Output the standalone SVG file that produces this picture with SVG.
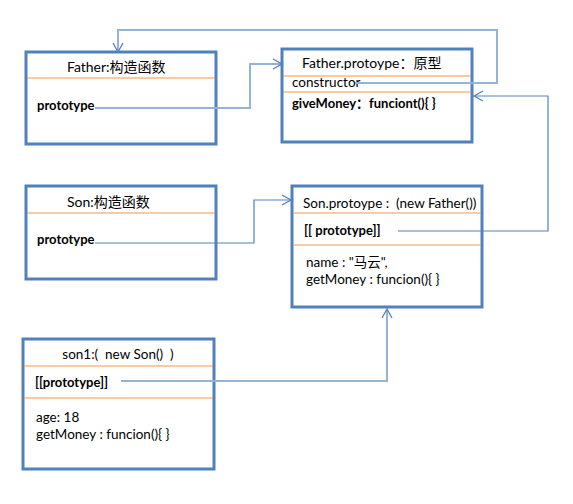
<svg xmlns="http://www.w3.org/2000/svg" width="573" height="504" viewBox="0 0 573 504">
<defs>
<marker id="arr" markerWidth="12" markerHeight="12" refX="10" refY="6" orient="auto" markerUnits="userSpaceOnUse">
<path d="M1,1 L10,6 L1,11" fill="none" stroke="#4F81BD" stroke-width="1.3"/>
</marker>
</defs>
<style>
.box{fill:#fff;stroke:#4F81BD;stroke-width:3}
.sep{stroke:#F79646;stroke-width:1.2}
.t{font-family:"Lato","Liberation Sans","Noto Sans CJK SC",sans-serif;font-size:13.5px;fill:#000;white-space:pre}
.h{font-size:14px}
.b{font-weight:bold;font-size:13px}
.c{fill:none;stroke:#95B3D7;stroke-width:2;marker-end:url(#arr)}
.c2{fill:none;stroke:#4F81BD;stroke-width:1.2;marker-end:url(#arr)}
</style>
<rect width="573" height="504" fill="#fff"/>
<g id="father">
<rect class="box" x="26" y="52" width="190" height="92"/>
<line class="sep" x1="27" y1="78" x2="215" y2="78"/>
<text class="t h" x="67" y="72">Father:构造函数</text>
<text class="t b" x="37" y="110">prototype</text>
</g>
<g id="father-prototype">
<rect class="box" x="282" y="49" width="190" height="93"/>
<line class="sep" x1="283" y1="76" x2="471" y2="76"/>
<line class="sep" x1="283" y1="92" x2="471" y2="92"/>
<text class="t h" x="302" y="68">Father.protoype：原型</text>
<text class="t" x="292" y="87">constructor</text>
<text class="t b" x="292" y="108">giveMoney：funciont(){ }</text>
</g>
<g id="son">
<rect class="box" x="26" y="186" width="190" height="93"/>
<line class="sep" x1="27" y1="213" x2="215" y2="213"/>
<text class="t h" x="67" y="207">Son:构造函数</text>
<text class="t b" x="37" y="244">prototype</text>
</g>
<g id="son-prototype">
<rect class="box" x="292" y="186" width="190" height="121"/>
<line class="sep" x1="293" y1="213" x2="481" y2="213"/>
<line class="sep" x1="293" y1="245" x2="481" y2="245"/>
<text class="t" x="303" y="208" xml:space="preserve">Son.protoype :  (new Father())</text>
<text class="t b" x="304" y="235">[[ prototype]]</text>
<text class="t" x="306" y="267">name : "马云",</text>
<text class="t" x="306" y="284">getMoney : funcion(){ }</text>
</g>
<g id="son1">
<rect class="box" x="23" y="339" width="191" height="130"/>
<line class="sep" x1="24" y1="366" x2="213" y2="366"/>
<line class="sep" x1="24" y1="398" x2="213" y2="398"/>
<text class="t" x="118" y="359" text-anchor="middle" xml:space="preserve">son1:(  new Son()  )</text>
<text class="t b" x="35" y="387">[[prototype]]</text>
<text class="t" x="36" y="422">age: 18</text>
<text class="t" x="36" y="439">getMoney : funcion(){ }</text>
</g>
<g id="connectors">
<polyline class="c" points="95,108 250,108 250,64 282,64"/>
<polyline class="c" points="355,83 497,83 497,30 118,30 118,52"/>
<polyline class="c2" points="95,243 254,243 254,200 291,200"/>
<polyline class="c2" points="398,231 548,231 548,96 474,96"/>
<polyline class="c" points="121,381 387,381 387,309"/>
</g>
</svg>
